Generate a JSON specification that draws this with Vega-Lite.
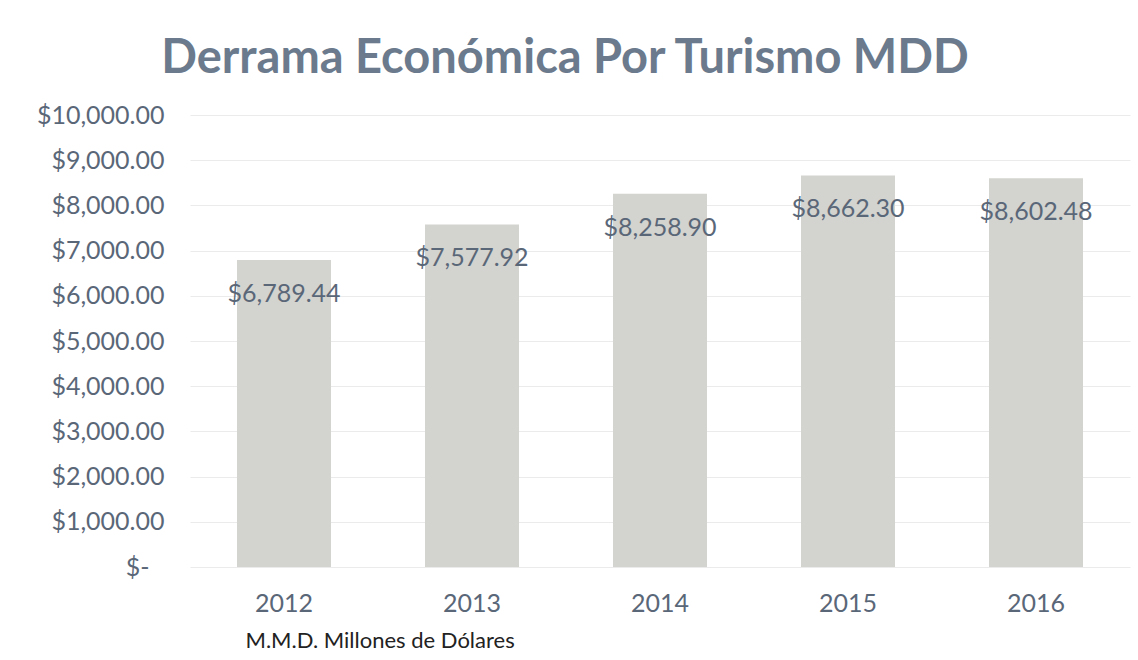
{
  "$schema": "https://vega.github.io/schema/vega-lite/v6.json",
  "autosize": {"type": "none"},
  "width": 940,
  "height": 452,
  "padding": {"left": 190, "top": 115, "right": 8, "bottom": 93},
  "background": "white",
  "config": {
    "view": {"stroke": null},
    "font": "Lato"
  },
  "title": {
    "text": "Derrama Económica Por Turismo MDD",
    "fontSize": 47,
    "fontWeight": "bold",
    "color": "#6b7a8c",
    "font": "Lato",
    "anchor": "middle",
    "dx": -95,
    "offset": 20
  },
  "data": {
    "values": [
      {"year": "2012", "value": 6789.44},
      {"year": "2013", "value": 7577.92},
      {"year": "2014", "value": 8258.90},
      {"year": "2015", "value": 8662.30},
      {"year": "2016", "value": 8602.48}
    ]
  },
  "encoding": {
    "x": {
      "field": "year",
      "type": "nominal",
      "scale": {"paddingInner": 0.5, "paddingOuter": 0.25},
      "axis": {
        "labelAngle": 0,
        "labelFontSize": 25,
        "labelColor": "#5a6778",
        "labelPadding": 24,
        "domain": false,
        "ticks": false,
        "title": "M.M.D. Millones de Dólares",
        "titleFontSize": 22,
        "titleFontWeight": "normal",
        "titleColor": "#222222",
        "titleAnchor": "start",
        "titleAlign": "left",
        "titleBaseline": "middle",
        "titleX": 55,
        "titleY": 73
      }
    },
    "y": {
      "field": "value",
      "type": "quantitative",
      "scale": {"domain": [0, 10000]},
      "axis": {
        "values": [0, 1000, 2000, 3000, 4000, 5000, 6000, 7000, 8000, 9000, 10000],
        "labelExpr": "datum.value == 0 ? '$-' : format(datum.value, '$,.2f')",
        "labelFontSize": 25,
        "labelColor": "#5a6778",
        "labelPadding": {"condition": {"test": "datum.value == 0", "value": 41}, "value": 26},
        "domain": false,
        "ticks": false,
        "gridColor": "#ebebeb",
        "title": null
      }
    }
  },
  "layer": [
    {
      "mark": {"type": "bar", "color": "#d3d3cf"}
    },
    {
      "mark": {"type": "text", "dy": 34, "fontSize": 25, "color": "#5a6778", "baseline": "middle"},
      "encoding": {
        "text": {"field": "value", "type": "quantitative", "format": "$,.2f"}
      }
    }
  ]
}
